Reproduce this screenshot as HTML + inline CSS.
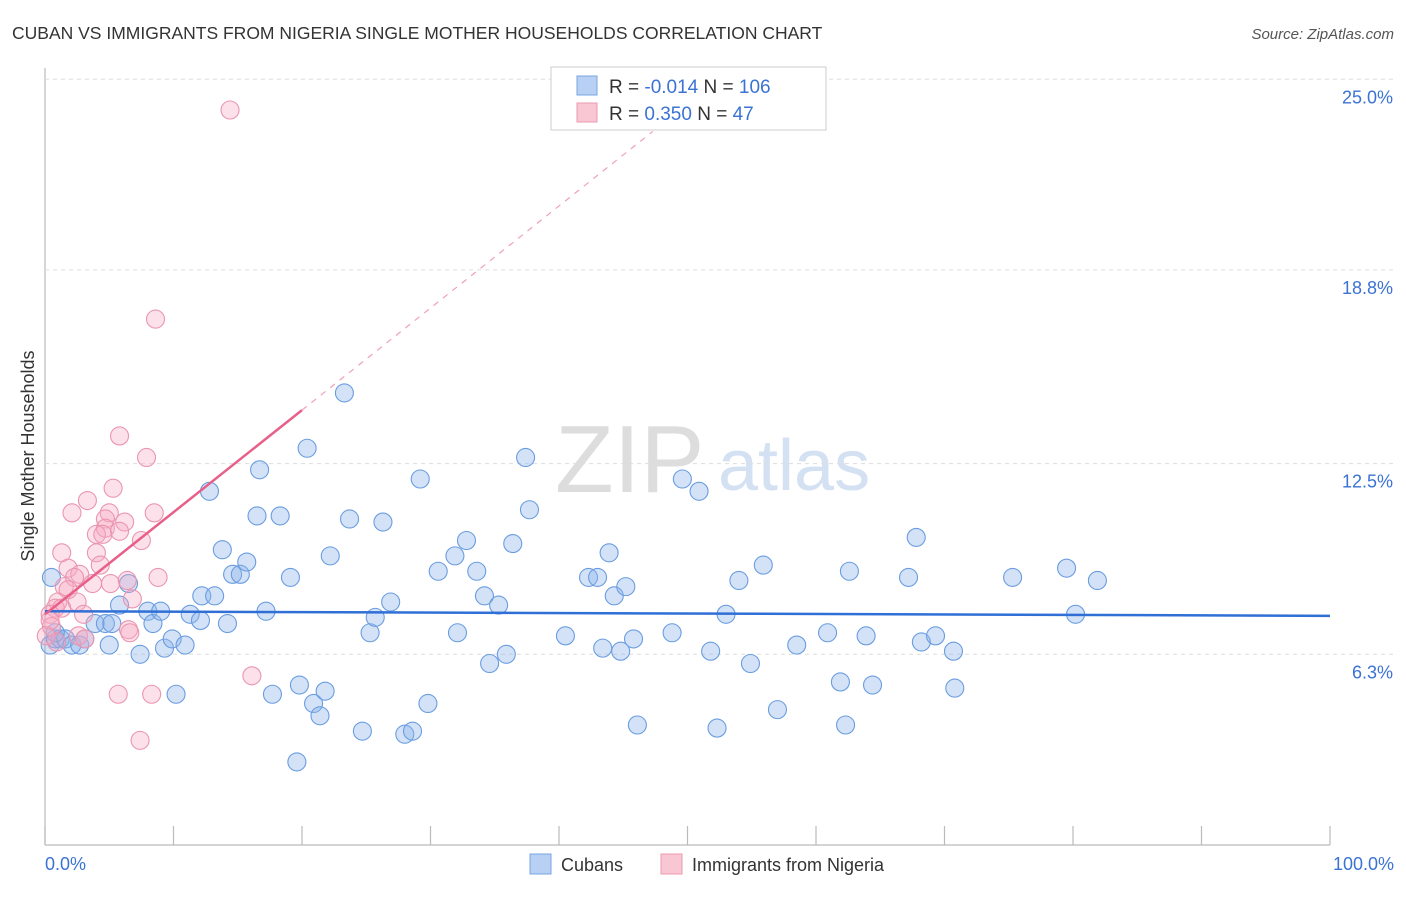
<!DOCTYPE html>
<html><head><meta charset="utf-8"><style>
body{margin:0;background:#fff;font-family:"Liberation Sans",sans-serif}
svg text{font-family:"Liberation Sans",sans-serif}
</style></head><body>
<svg id="c" width="1406" height="892" xmlns="http://www.w3.org/2000/svg">
<text x="12" y="39" font-size="17.5" fill="#333">CUBAN VS IMMIGRANTS FROM NIGERIA SINGLE MOTHER HOUSEHOLDS CORRELATION CHART</text>
<text x="1394" y="39" font-size="15" fill="#555" font-style="italic" text-anchor="end">Source: ZipAtlas.com</text>
<text x="555" y="492" font-size="96" fill="#ddd" font-family="Liberation Serif">ZIP</text>
<text x="718" y="490" font-size="72" fill="#d3e1f3">atlas</text>
<g id="grid"></g><g id="pts"></g><g id="lines"></g>
<text transform="translate(34,456) rotate(-90)" font-size="18" fill="#333" text-anchor="middle">Single Mother Households</text>
<text x="45" y="870" font-size="18" fill="#3b73d4">0.0%</text>
<text x="1394" y="870" font-size="18" fill="#3b73d4" text-anchor="end">100.0%</text>
<g>
<rect x="551" y="67" width="275" height="63" fill="#fff" stroke="#ccc"/>
<rect x="577" y="76" width="20" height="19" fill="#b7d0f3" stroke="#7aa5e3"/>
<rect x="577" y="103" width="20" height="19" fill="#f9c6d4" stroke="#ee9ab2"/>
<text x="609" y="93" font-size="19" fill="#333">R = <tspan fill="#3b73d4">-0.014</tspan>   N = <tspan fill="#3b73d4">106</tspan></text>
<text x="609" y="120" font-size="19" fill="#333">R =  <tspan fill="#3b73d4">0.350</tspan>   N =   <tspan fill="#3b73d4">47</tspan></text>
</g>
<g>
<rect x="530" y="854" width="21" height="20" fill="#b7d0f3" stroke="#7aa5e3"/>
<text x="561" y="871" font-size="18" fill="#333">Cubans</text>
<rect x="661" y="854" width="21" height="20" fill="#f9c6d4" stroke="#ee9ab2"/>
<text x="692" y="871" font-size="18" fill="#333">Immigrants from Nigeria</text>
</g>
</svg>
<script>
const yTicks=[6.3,12.5,18.8,25.0];
const xTickVals=[0,10,20,30,40,50,60,70,80,90,100];
const cubanX=[0.4,0.8,1.2,1.6,2.1,2.7,3.1,0.8,3.9,4.7,5.2,5.8,6.5,7.4,8.0,8.4,9.0,9.3,9.9,10.2,10.9,11.3,12.1,12.2,12.8,13.2,13.8,14.2,14.6,15.2,15.7,16.5,16.7,17.2,17.7,18.3,19.1,19.6,19.8,20.4,20.9,21.4,21.8,22.2,23.3,23.7,24.7,25.3,25.7,26.3,26.9,28.0,28.6,29.2,29.8,30.6,31.9,32.1,32.8,33.6,34.2,34.6,35.3,35.9,36.4,37.4,37.7,40.5,42.3,43.0,43.4,43.9,44.3,44.8,45.2,45.8,46.1,48.8,49.6,50.9,51.8,52.3,53.0,54.0,54.9,55.9,57.0,58.5,60.9,61.9,62.3,62.6,63.9,64.4,67.2,67.8,68.2,69.3,70.7,70.8,75.3,79.5,80.2,81.9,0.5,5.0];
const cubanY=[6.6,6.8,6.8,6.8,6.6,6.6,6.8,7.0,7.3,7.3,7.3,7.9,8.6,6.3,7.7,7.3,7.7,6.5,6.8,5.0,6.6,7.6,7.4,8.2,11.6,8.2,9.7,7.3,8.9,8.9,9.3,10.8,12.3,7.7,5.0,10.8,8.8,2.8,5.3,13.0,4.7,4.3,5.1,9.5,14.8,10.7,3.8,7.0,7.5,10.6,8.0,3.7,3.8,12.0,4.7,9.0,9.5,7.0,10.0,9.0,8.2,6.0,7.9,6.3,9.9,12.7,11.0,6.9,8.8,8.8,6.5,9.6,8.2,6.4,8.5,6.8,4.0,7.0,12.0,11.6,6.4,3.9,7.6,8.7,6.0,9.2,4.5,6.6,7.0,5.4,4.0,9.0,6.9,5.3,8.8,10.1,6.7,6.9,6.4,5.2,8.8,9.1,7.6,8.7,8.8,6.6,7.3];
const nigX=[14.4,8.6,5.8,7.9,5.3,3.3,2.1,5.0,8.5,4.7,6.2,4.7,5.8,4.0,7.5,4.5,1.3,4.0,6.4,1.8,8.8,2.7,4.3,2.3,1.5,3.7,1.8,6.8,1.0,2.5,0.8,1.3,3.0,0.4,0.5,6.5,6.6,2.6,0.9,3.1,5.7,8.3,7.4,16.1,0.4,5.1,0.1];
const nigY=[24.0,17.2,13.4,12.7,11.7,11.3,10.9,10.9,10.9,10.7,10.6,10.4,10.3,10.2,10.0,10.2,9.6,9.6,8.7,9.1,8.8,8.9,9.2,8.8,8.5,8.6,8.4,8.1,8.0,8.0,7.8,7.8,7.6,7.6,7.2,7.1,7.0,6.9,6.7,6.8,5.0,5.0,3.5,5.6,7.4,8.6,6.9];
const cubanTrend=[7.7,7.55];
const nigTrend=[7.6,0.332];
const X0=45,X1=1330,Y0=848,PY=30.75;
const sx=v=>X0+(X1-X0)*v/100, sy=v=>Y0-v*PY;
const NS='http://www.w3.org/2000/svg';
function mk(t,a,p){const e=document.createElementNS(NS,t);for(const k in a)e.setAttribute(k,a[k]);p.appendChild(e);return e;}
const g=document.getElementById('grid');
const ya=mk('line',{x1:45,y1:68,x2:45,y2:845,stroke:'#bbb','stroke-width':1.2},g);


const xa=mk('line',{x1:45,y1:845,x2:1330,y2:845,stroke:'#bbb','stroke-width':1.2},g);


yTicks.forEach(v=>{
 const l=mk('line',{x1:45,x2:1395,y1:sy(v),y2:sy(v),stroke:'#ddd','stroke-dasharray':'4,4'},g);
 
 
 const t=mk('text',{x:1393,y:sy(v)+24,'font-size':18,fill:'#3b73d4','text-anchor':'end'},g);
 t.textContent=v.toFixed(1)+'%';
 
 
});
xTickVals.forEach(v=>{
 const l=mk('line',{x1:sx(v),x2:sx(v),y1:826,y2:845,stroke:'#bbb','stroke-width':1.2},g);
 
 
});
const p=document.getElementById('pts');
cubanX.forEach((v,i)=>{
 const c=mk('circle',{cx:sx(v),cy:sy(cubanY[i]),r:9,fill:'rgba(140,180,235,0.38)',stroke:'#6a9de0','stroke-width':1.1},p);
 
 
});
nigX.forEach((v,i)=>{
 const c=mk('circle',{cx:sx(v),cy:sy(nigY[i]),r:9,fill:'rgba(245,170,195,0.35)',stroke:'#eb95b0','stroke-width':1.1},p);
 
 
});
const L=document.getElementById('lines');
const bl=mk('line',{x1:sx(0),y1:sy(cubanTrend[0]),x2:sx(100),y2:sy(cubanTrend[1]),stroke:'#2f6fd6','stroke-width':2.5},L);


const nf=x=>nigTrend[0]+nigTrend[1]*x;
const pl=mk('line',{x1:sx(0),y1:sy(nf(0)),x2:sx(20),y2:sy(nf(20)),stroke:'#e8608a','stroke-width':2.5},L);


const pd=mk('line',{x1:sx(20),y1:sy(nf(20)),x2:sx(47.3),y2:sy(nf(47.3)),stroke:'#f0a0b8','stroke-width':1.2,'stroke-dasharray':'6,6'},L);


</script>
</body></html>
